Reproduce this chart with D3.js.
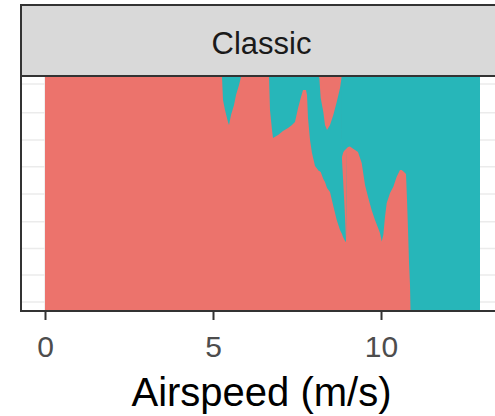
<!doctype html>
<html lang="en">
<head>
<meta charset="UTF-8">
<title>Classic - airspeed</title>
<style>
  body { margin: 0; background: #fff; }
  text { font-family: "Liberation Sans", Arial, sans-serif; }
</style>
<script src="https://cdn.jsdelivr.net/npm/d3@7"></script>
</head>
<body>
<div id="container"></div>
<script>
// airspeed (m/s) sample points along the x axis
var airspeed = [0, 5.268, 5.298, 5.357, 5.446, 5.476, 5.536, 5.625, 5.685, 5.774, 5.833,
  6.667, 6.696, 6.756, 6.786, 6.935, 7.083, 7.232, 7.351, 7.440, 7.530, 7.619, 7.679,
  7.768, 7.798, 7.827, 7.887, 7.946, 8.036, 8.150, 8.164, 8.205, 8.283, 8.333, 8.393,
  8.482, 8.580, 8.682, 8.780, 8.824, 8.839, 8.869, 8.899, 8.929, 8.958, 8.988, 9.018,
  9.077, 9.137, 9.226, 9.315, 9.425, 9.524, 9.622, 9.723, 9.821, 9.970, 10.021, 10.068,
  10.119, 10.170, 10.268, 10.366, 10.467, 10.565, 10.616, 10.685, 10.744, 10.774, 10.804,
  10.833, 10.863, 10.878, 12.946];
// share of the bottom (red) band
var lowerRedTop = [1, 1, 0.901, 0.859, 0.807, 0.794, 0.837, 0.880, 0.923, 0.966, 1,
  1, 0.859, 0.773, 0.739, 0.752, 0.769, 0.782, 0.794, 0.807, 0.866, 0.914, 0.944,
  0.944, 0.923, 0.824, 0.730, 0.675, 0.619, 0.597, 0.597, 0.593, 0.563, 0.550, 0.525,
  0.507, 0.448, 0.388, 0.345, 0.332, 0.328, 0.315, 0.306, 0.298, 0.293, 0.696, 0.700,
  0.702, 0.696, 0.687, 0.679, 0.632, 0.537, 0.482, 0.429, 0.388, 0.332, 0.295, 0.323,
  0.402, 0.460, 0.503, 0.530, 0.573, 0.602, 0.602, 0.593, 0.585, 0.473, 0.345,
  0.208, 0.109, 0, 0];
// upper red band (bottom / top edge)
var upperRedBottom = [1, 1, 1, 1, 1, 1, 1, 1, 1, 1, 1,
  1, 1, 1, 1, 1, 1, 1, 1, 1, 1, 1, 1,
  1, 1, 1, 1, 1, 1, 1, 0.996, 0.910, 0.850, 0.794, 0.773,
  0.794, 0.837, 0.893, 0.953, 0.996, 0.645, 0.567, 0.486, 0.400, 0.302, 0.696, 0.700,
  0.702, 0.696, 0.687, 0.679, 0.632, 0.537, 0.482, 0.429, 0.388, 0.332, 0.295, 0.323,
  0.402, 0.460, 0.503, 0.530, 0.573, 0.602, 0.602, 0.593, 0.585, 0.473, 0.345,
  0.208, 0.109, 0, 0];
var upperRedTop = [1, 1, 1, 1, 1, 1, 1, 1, 1, 1, 1,
  1, 1, 1, 1, 1, 1, 1, 1, 1, 1, 1, 1,
  1, 1, 1, 1, 1, 1, 1, 1, 1, 1, 1, 1,
  1, 1, 1, 1, 1, 0.657, 0.675, 0.683, 0.687, 0.692, 0.696, 0.700,
  0.702, 0.696, 0.687, 0.679, 0.632, 0.537, 0.482, 0.429, 0.388, 0.332, 0.295, 0.323,
  0.402, 0.460, 0.503, 0.530, 0.573, 0.602, 0.602, 0.593, 0.585, 0.473, 0.345,
  0.208, 0.109, 0, 0];

var xTicks = [0, 5, 10];
var yGrid = [0.036, 0.152, 0.266, 0.380, 0.499, 0.616, 0.730, 0.847, 0.970];
var facetLabel = "Classic";
var xTitle = "Airspeed (m/s)";

var width = 495, height = 416;
var panel = { left: 21, right: 502, top: 76, bottom: 311 };
var red = "#EC736C", teal = "#27B6B9";

var rows = airspeed.map(function (a, i) {
  return { a: a, r1: lowerRedTop[i], r2b: upperRedBottom[i], r2t: upperRedTop[i] };
});

var x = d3.scaleLinear().domain([0, d3.max(airspeed)]).range([45, 480]);
var y = d3.scaleLinear().domain([0, 1]).range([310.5, 77]);

var svg = d3.select('#container').append('svg')
  .attr('width', width).attr('height', height)
  .style('display', 'block');

svg.append('rect').attr('width', width).attr('height', height).attr('fill', '#fff');

svg.append('clipPath').attr('id', 'clip')
  .append('rect')
  .attr('x', panel.left).attr('y', panel.top)
  .attr('width', panel.right - panel.left).attr('height', panel.bottom - panel.top);

var g = svg.append('g').attr('clip-path', 'url(#clip)');

// grid (theme_bw style)
g.selectAll('.gy').data(yGrid).enter().append('line')
  .attr('x1', panel.left).attr('x2', panel.right)
  .attr('y1', function (d) { return y(d); }).attr('y2', function (d) { return y(d); })
  .attr('stroke', '#EBEBEB').attr('stroke-width', 1.5);
g.selectAll('.gx').data(xTicks).enter().append('line')
  .attr('x1', function (d) { return x(d); }).attr('x2', function (d) { return x(d); })
  .attr('y1', panel.top).attr('y2', panel.bottom)
  .attr('stroke', '#EBEBEB').attr('stroke-width', 1.5);

// teal everywhere, red bands on top
var full = d3.area()
  .x(function (d) { return x(d.a); })
  .y0(y(0)).y1(y(1));
var lowBand = d3.area()
  .x(function (d) { return x(d.a); })
  .y0(y(0)).y1(function (d) { return y(d.r1); });
var highBand = d3.area()
  .x(function (d) { return x(d.a); })
  .y0(function (d) { return y(d.r2b); }).y1(function (d) { return y(d.r2t); });

g.append('path').attr('d', full(rows)).attr('fill', teal);
g.append('path').attr('d', lowBand(rows)).attr('fill', red);
g.append('path').attr('d', highBand(rows)).attr('fill', red);

// panel border
svg.append('rect')
  .attr('x', panel.left).attr('y', panel.top)
  .attr('width', panel.right - panel.left).attr('height', panel.bottom - panel.top)
  .attr('fill', 'none').attr('stroke', '#333').attr('stroke-width', 2);

// facet strip
svg.append('rect')
  .attr('x', panel.left).attr('y', 5)
  .attr('width', panel.right - panel.left).attr('height', panel.top - 5)
  .attr('fill', '#D9D9D9').attr('stroke', '#333').attr('stroke-width', 2);
svg.append('text')
  .attr('x', (panel.left + panel.right) / 2).attr('y', 54)
  .attr('text-anchor', 'middle')
  .attr('font-size', 31).attr('fill', '#1A1A1A')
  .text(facetLabel);

// x axis
var axis = svg.append('g')
  .attr('transform', 'translate(0,' + panel.bottom + ')')
  .call(d3.axisBottom(x).tickValues(xTicks).tickSize(9).tickPadding(16));
axis.select('.domain').remove();
axis.selectAll('.tick line').attr('stroke', '#333').attr('stroke-width', 2);
axis.selectAll('.tick text')
  .attr('font-size', 30).attr('fill', '#4D4D4D')
  .style('font-family', '"Liberation Sans", Arial, sans-serif');

svg.append('text')
  .attr('x', (panel.left + panel.right) / 2).attr('y', 406)
  .attr('text-anchor', 'middle')
  .attr('font-size', 40).attr('fill', '#000')
  .text(xTitle);
</script>
</body>
</html>
